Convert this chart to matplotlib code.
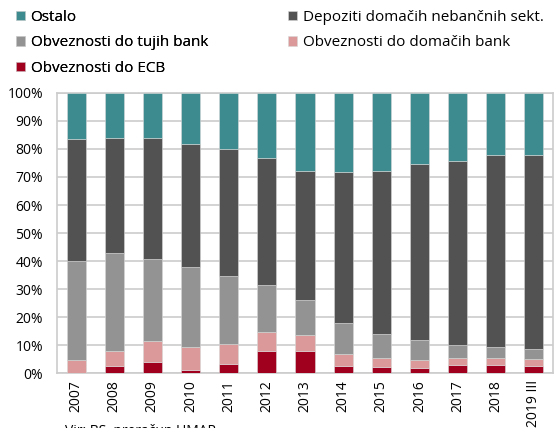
import numpy as np
import matplotlib.pyplot as plt

plt.rcParams['font.family'] = ['Open Sans', 'DejaVu Sans']

years = ["2007", "2008", "2009", "2010", "2011", "2012", "2013",
         "2014", "2015", "2016", "2017", "2018", "2019 III"]

# cumulative tops (%)
ecb_top = [0.0, 2.6, 4.0, 1.1, 3.3, 7.9, 8.0, 2.6, 2.2, 1.9, 2.9, 2.8, 2.6]
dom_top = [4.8, 7.9, 11.4, 9.5, 10.4, 14.7, 13.6, 6.7, 5.5, 4.7, 5.4, 5.4, 4.9]
tuj_top = [40.0, 43.0, 40.6, 38.0, 34.8, 31.6, 26.1, 18.0, 14.0, 11.7, 10.0, 9.3, 8.7]
dep_top = [83.4, 84.0, 84.0, 81.6, 80.0, 76.8, 72.2, 71.8, 72.3, 74.7, 75.6, 78.0, 77.9]

ecb = np.array(ecb_top)
dom = np.array(dom_top) - np.array(ecb_top)
tuj = np.array(tuj_top) - np.array(dom_top)
dep = np.array(dep_top) - np.array(tuj_top)
ost = 100 - np.array(dep_top)

series = [
    ("Obveznosti do ECB", ecb, "#a0001e"),
    ("Obveznosti do domačih bank", dom, "#dc9999"),
    ("Obveznosti do tujih bank", tuj, "#939393"),
    ("Depoziti domačih nebančnih sekt.", dep, "#525252"),
    ("Ostalo", ost, "#3d8a8f"),
]

fig = plt.figure(figsize=(5.56, 4.28), dpi=100)
ax = fig.add_axes([0.1025, 0.128, 0.892, 0.655])

x = np.arange(len(years))
bottom = np.zeros(len(years))
handles = {}
for name, vals, col in series:
    b = ax.bar(x, vals, bottom=bottom, width=0.5, color=col,
               edgecolor="#d8d8d8", linewidth=0.4, label=name, zorder=3)
    handles[name] = b
    bottom += vals

ax.set_xlim(-0.5, len(years) - 0.5)
ax.set_ylim(0, 100)
ax.set_yticks(np.arange(0, 101, 10))
ax.set_yticklabels([f"{v}%" for v in range(0, 101, 10)], fontsize=10)
ax.set_xticks(x)
ax.set_xticklabels(years, rotation=90, fontsize=10)
ax.tick_params(axis="y", length=0, pad=10)
ax.tick_params(axis="x", length=0, pad=5)
ax.grid(axis="y", color="#cccccc", linewidth=1.2, zorder=0)
for s in ax.spines.values():
    s.set_color("#cccccc")
    s.set_linewidth(1.2)

legend_kw = dict(loc="upper left", frameon=False, fontsize=11,
                 handlelength=0.6, handleheight=0.6, handletextpad=0.35,
                 labelspacing=0.68, borderpad=0, borderaxespad=0)
col1 = ["Ostalo", "Obveznosti do tujih bank", "Obveznosti do ECB"]
col2 = ["Depoziti domačih nebančnih sekt.", "Obveznosti do domačih bank"]
leg1 = fig.legend([handles[n] for n in col1], col1,
                  bbox_to_anchor=(16 / 556, 1 - 10 / 428), **legend_kw)
fig.add_artist(leg1)
fig.legend([handles[n] for n in col2], col2,
           bbox_to_anchor=(288 / 556, 1 - 10 / 428), **legend_kw)

fig.text(65 / 556, 4 / 428, "Vir: BS, preračun UMAR", fontsize=10, va="top")

fig.savefig("out.png", dpi=100)
